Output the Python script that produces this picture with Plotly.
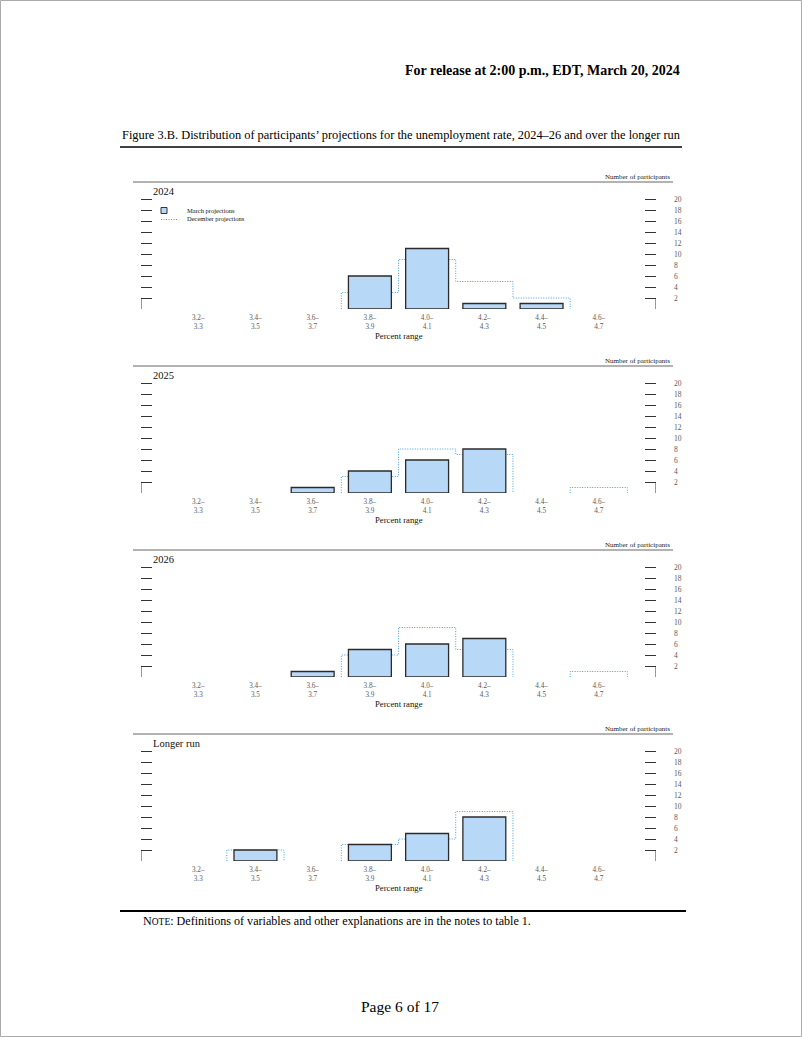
import plotly.graph_objects as go

W, H = 802, 1037
SERIF = "Liberation Serif"

categories = ["3.2–<br>3.3", "3.4–<br>3.5", "3.6–<br>3.7", "3.8–<br>3.9",
              "4.0–<br>4.1", "4.2–<br>4.3", "4.4–<br>4.5", "4.6–<br>4.7"]
panel_names = ["2024", "2025", "2026", "Longer run"]

march_2024 = [0, 0, 0, 6, 11, 1, 1, 0]
march_2025 = [0, 0, 1, 4, 6, 8, 0, 0]
march_2026 = [0, 0, 1, 5, 6, 7, 0, 0]
march_lr = [0, 2, 0, 3, 5, 8, 0, 0]

dec_2024 = [0, 0, 0, 3, 9, 5, 2, 0]
dec_2025 = [0, 0, 0, 3, 8, 7, 0, 1]
dec_2026 = [0, 0, 0, 4, 9, 5, 0, 1]
dec_lr = [0, 2, 0, 3, 4, 9, 0, 0]

y_ticks = list(range(2, 21, 2))

march = [march_2024, march_2025, march_2026, march_lr]
december = [dec_2024, dec_2025, dec_2026, dec_lr]

BAR_FILL = "#b8d8f7"
BAR_LINE = "#2b2b2b"
DEC_COLOR = "#4a9fd8"
DEC_DASH = "1px,1.5px"
GREY = "#5a5a5a"


def px_x(x):
    return x / W


def px_y(y):
    return 1 - y / H


def step_outline(values):
    # stepped outline covering each category's full width, broken at empty bins
    xs, ys = [], []
    i = 0
    n = len(values)
    while i < n:
        if values[i] == 0:
            i += 1
            continue
        xs.append(i - 0.5)
        ys.append(0)
        while i < n and values[i] > 0:
            xs += [i - 0.5, i + 0.5]
            ys += [values[i], values[i]]
            i += 1
        xs += [i - 0.5, None]
        ys += [0, None]
    return xs, ys


fig = go.Figure()
annotations = []
shapes = []

X0, X1 = 141, 656
for k in range(4):
    base = 309 + 184 * k
    top = base - 115.5
    xa = "x" if k == 0 else f"x{k + 1}"
    ya = "y" if k == 0 else f"y{k + 1}"

    dx, dy = step_outline(december[k])
    fig.add_trace(go.Scatter(
        x=dx, y=dy, mode="lines", xaxis=xa, yaxis=ya,
        line={"color": DEC_COLOR, "width": 1, "dash": DEC_DASH},
        connectgaps=False, showlegend=False, zorder=0, hoverinfo="skip",
    ))
    fig.add_trace(go.Bar(
        x=list(range(len(categories))),
        y=[v if v > 0 else None for v in march[k]],
        width=0.75, xaxis=xa, yaxis=ya,
        marker={"color": BAR_FILL, "line": {"color": BAR_LINE, "width": 1.3}},
        showlegend=False, zorder=1,
    ))

    fig.update_layout({
        ("xaxis" if k == 0 else f"xaxis{k + 1}"): {
            "domain": [px_x(X0), px_x(X1)],
            "anchor": ya,
            "range": [-1, 8],
            "tickvals": list(range(len(categories))),
            "ticktext": categories,
            "tickfont": {"family": SERIF, "size": 7.2, "color": GREY},
            "showgrid": False, "zeroline": False,
            "showline": True, "linecolor": "#000000", "linewidth": 2,
            "ticks": "", "ticklabelstandoff": 0,
        },
        ("yaxis" if k == 0 else f"yaxis{k + 1}"): {
            "domain": [px_y(base), px_y(top)],
            "anchor": xa,
            "range": [0, 21],
            "side": "right",
            "tickvals": y_ticks,
            "ticks": "inside", "ticklen": 11, "tickwidth": 1, "tickcolor": "#333333",
            "mirror": "ticks",
            "tickfont": {"family": SERIF, "size": 7.5, "color": GREY},
            "ticklabelstandoff": 17,
            "showgrid": False, "zeroline": False, "showline": False,
        },
    })

    # bracket corners at the baseline
    for xc in (-1, 8):
        shapes.append(dict(type="line", xref=xa, yref=ya, x0=xc, x1=xc, y0=0, y1=2,
                           line={"color": "#333333", "width": 1}))

    # panel rule
    shapes.append(dict(type="line", xref="paper", yref="paper",
                       x0=px_x(133), x1=px_x(673), y0=px_y(182 + 184 * k), y1=px_y(182 + 184 * k),
                       line={"color": "#666666", "width": 1}))
    annotations.append(dict(text="Number of participants", xref="paper", yref="paper",
                            x=px_x(672), y=px_y(177 + 184 * k), xanchor="right", yanchor="middle",
                            showarrow=False, font={"family": SERIF, "size": 7, "color": "#222222"}))
    annotations.append(dict(text=panel_names[k], xref="paper", yref="paper",
                            x=px_x(151), y=px_y(191.5 + 184 * k), xanchor="left", yanchor="middle",
                            showarrow=False, font={"family": SERIF, "size": 10.5, "color": "#111111"}))
    annotations.append(dict(text="Percent range", xref="paper", yref="paper",
                            x=px_x(399), y=px_y(336 + 184 * k), xanchor="center", yanchor="middle",
                            showarrow=False, font={"family": SERIF, "size": 8.7, "color": "#111111"}))

# legend (first panel only)
shapes.append(dict(type="rect", xref="paper", yref="paper",
                   x0=px_x(161), x1=px_x(167), y0=px_y(213.5), y1=px_y(207.5),
                   fillcolor=BAR_FILL, line={"color": "#333333", "width": 1}))
shapes.append(dict(type="line", xref="paper", yref="paper",
                   x0=px_x(161), x1=px_x(177), y0=px_y(219.5), y1=px_y(219.5),
                   line={"color": DEC_COLOR, "width": 1, "dash": DEC_DASH}))
annotations.append(dict(text="March projections", xref="paper", yref="paper",
                        x=px_x(185), y=px_y(210.5), xanchor="left", yanchor="middle",
                        showarrow=False, font={"family": SERIF, "size": 6.5, "color": "#111111"}))
annotations.append(dict(text="December projections", xref="paper", yref="paper",
                        x=px_x(185), y=px_y(219), xanchor="left", yanchor="middle",
                        showarrow=False, font={"family": SERIF, "size": 6.5, "color": "#111111"}))

# page furniture
annotations.append(dict(text="<b>For release at 2:00 p.m., EDT, March 20, 2024</b>", xref="paper", yref="paper",
                        x=px_x(682), y=px_y(70), xanchor="right", yanchor="middle",
                        showarrow=False, font={"family": SERIF, "size": 14, "color": "#000000"}))
annotations.append(dict(text="Figure 3.B. Distribution of participants’ projections for the unemployment rate, 2024–26 and over the longer run",
                        xref="paper", yref="paper", x=px_x(120), y=px_y(135), xanchor="left", yanchor="middle",
                        showarrow=False, font={"family": SERIF, "size": 12.4, "color": "#000000"}))
shapes.append(dict(type="line", xref="paper", yref="paper", x0=px_x(120), x1=px_x(682),
                   y0=px_y(147), y1=px_y(147), line={"color": "#000000", "width": 1.6}))
shapes.append(dict(type="line", xref="paper", yref="paper", x0=px_x(120), x1=px_x(686),
                   y0=px_y(911), y1=px_y(911), line={"color": "#000000", "width": 1.8}))
annotations.append(dict(text="N<span style='font-size:9.5px'>OTE</span>: Definitions of variables and other explanations are in the notes to table 1.",
                        xref="paper", yref="paper", x=px_x(141), y=px_y(921), xanchor="left", yanchor="middle",
                        showarrow=False, font={"family": SERIF, "size": 12.1, "color": "#000000"}))
annotations.append(dict(text="Page 6 of 17", xref="paper", yref="paper", x=px_x(400), y=px_y(1006),
                        xanchor="center", yanchor="middle", showarrow=False,
                        font={"family": SERIF, "size": 15.5, "color": "#000000"}))
shapes.append(dict(type="rect", xref="paper", yref="paper", x0=0.5 / W, x1=1 - 0.5 / W,
                   y0=0.5 / H, y1=1 - 0.5 / H, line={"color": "#aaaaaa", "width": 1}))

fig.update_layout(
    width=W, height=H,
    margin={"l": 0, "r": 0, "t": 0, "b": 0},
    paper_bgcolor="white", plot_bgcolor="white",
    barmode="overlay", showlegend=False,
    annotations=annotations, shapes=shapes,
)
fig.write_html("out.html", config={"displayModeBar": False},
               post_script="document.body.style.margin='0';")
